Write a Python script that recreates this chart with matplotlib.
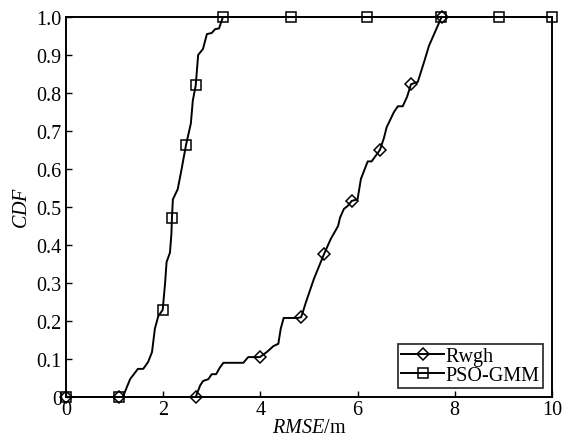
import matplotlib.pyplot as plt

plt.rcParams['font.family'] = ['Liberation Serif', 'DejaVu Serif']
plt.rcParams['mathtext.fontset'] = 'custom'
plt.rcParams['mathtext.rm'] = 'Liberation Serif'
plt.rcParams['mathtext.it'] = 'Liberation Serif:italic'

# Rwgh
rwgh_x = [0, 1.1, 2.67, 2.76, 2.82, 2.93, 3.0, 3.09, 3.17, 3.24, 3.65, 3.75, 3.99,
          4.13, 4.27, 4.37, 4.42, 4.48, 4.77, 4.84, 4.94, 5.1, 5.31, 5.45, 5.6, 5.64,
          5.72, 5.8, 5.88, 6.0, 6.07, 6.21, 6.29, 6.46, 6.54, 6.6, 6.75, 6.83, 6.93,
          7.02, 7.1, 7.24, 7.39, 7.47, 7.73]
rwgh_y = [0, 0, 0, 0.03, 0.042, 0.047, 0.06, 0.06, 0.078, 0.09, 0.09, 0.105, 0.105,
          0.118, 0.134, 0.14, 0.18, 0.208, 0.208, 0.21, 0.25, 0.31, 0.376, 0.416, 0.45,
          0.472, 0.495, 0.503, 0.516, 0.52, 0.574, 0.62, 0.62, 0.65, 0.68, 0.71, 0.75,
          0.765, 0.765, 0.79, 0.823, 0.829, 0.89, 0.924, 1.0]
rwgh_marks = [0, 1.1, 2.67, 3.99, 4.84, 5.31, 5.88, 6.46, 7.1, 7.73]

# PSO-GMM
pso_x = [0, 1.1, 1.17, 1.32, 1.48, 1.59, 1.69, 1.77, 1.83, 1.9, 1.99, 2.04, 2.07,
         2.14, 2.17, 2.18, 2.2, 2.3, 2.38, 2.47, 2.57, 2.61, 2.67, 2.72, 2.82, 2.9,
         3.0, 3.07, 3.15, 3.23, 4.63, 6.19, 7.72, 8.91, 10]
pso_y = [0, 0, 0, 0.047, 0.074, 0.074, 0.092, 0.118, 0.18, 0.213, 0.229, 0.30, 0.355,
         0.38, 0.43, 0.47, 0.52, 0.547, 0.6, 0.663, 0.72, 0.78, 0.82, 0.90, 0.916, 0.955,
         0.958, 0.968, 0.97, 1.0, 1.0, 1.0, 1.0, 1.0, 1.0]
pso_marks = [0, 1.1, 1.99, 2.18, 2.47, 2.67, 3.23, 4.63, 6.19, 7.72, 8.91, 10]

fig = plt.figure(figsize=(5.62, 4.39), dpi=100)
ax = fig.add_axes([0.1174, 0.0934, 0.8646, 0.8656])

ax.plot(rwgh_x, rwgh_y, color='k', lw=1.4, marker='D', ms=6.5, mew=1.1,
        fillstyle='none', markevery=[rwgh_x.index(v) for v in rwgh_marks],
        clip_on=False, label='Rwgh', zorder=3)
ax.plot(pso_x, pso_y, color='k', lw=1.4, marker='s', ms=7.5, mew=1.1,
        fillstyle='none', markevery=[pso_x.index(v) for v in pso_marks],
        clip_on=False, label='PSO-GMM', zorder=3)

ax.set_xlim(0, 10)
ax.set_ylim(0, 1)
ax.set_xticks([0, 2, 4, 6, 8, 10])
ax.set_yticks([i / 10 for i in range(11)])
ax.set_yticklabels(['0'] + ['%.1f' % (i / 10) for i in range(1, 11)])
ax.tick_params(direction='in', length=4, width=1, labelsize=14.5)
ax.tick_params(axis='x', pad=2.5)
ax.tick_params(axis='y', pad=3)
for s in ax.spines.values():
    s.set_linewidth(1.4)

ax.set_xlabel(r'$\mathit{RMSE}$/m', fontsize=14.5, labelpad=-1)
ax.set_ylabel(r'$\mathit{CDF}$', fontsize=14.5, labelpad=3)

leg = ax.legend(loc='lower right', fontsize=14.5, frameon=True, fancybox=False,
                edgecolor='k', borderpad=0.15, labelspacing=0.0, handlelength=2.1,
                handletextpad=0.1, borderaxespad=0.45)
leg.get_frame().set_linewidth(1.3)

fig.savefig('out.png', dpi=100)
